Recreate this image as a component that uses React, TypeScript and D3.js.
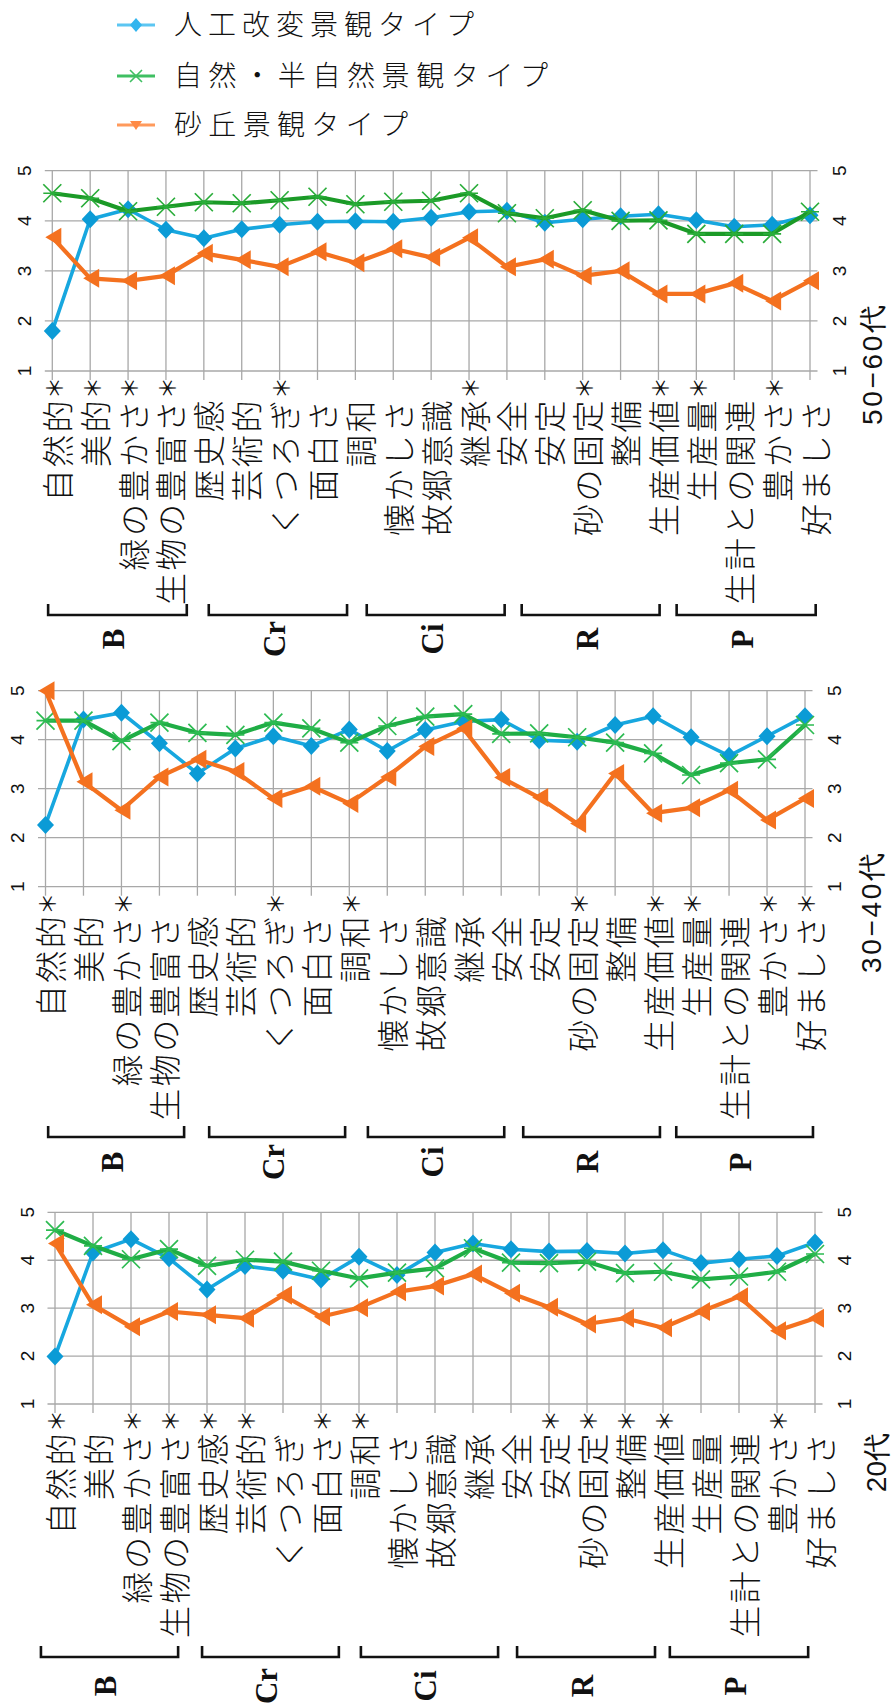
import React from 'react';
import * as d3 from 'd3';

// ---------- data ----------
const categories = ['自然的', '美的', '緑の豊かさ', '生物の豊富さ', '歴史感', '芸術的', 'くつろぎ', '面白さ', '調和', '懐かしさ', '故郷意識', '継承', '安全', '安定', '砂の固定', '整備', '生産価値', '生産量', '生計との関連', '豊かさ', '好ましさ'];
const groupNames = ['B', 'Cr', 'Ci', 'R', 'P'];
const seriesNames = ['人工改変景観タイプ', '自然・半自然景観タイプ', '砂丘景観タイプ'];
const valueTicks = [1, 2, 3, 4, 5];

// 50–60代
const artificial5060 = [1.8, 4.03, 4.23, 3.82, 3.65, 3.83, 3.92, 3.98, 3.99, 3.98, 4.06, 4.18, 4.2, 3.96, 4.03, 4.09, 4.13, 4.01, 3.88, 3.92, 4.11];
const natural5060 = [4.55, 4.45, 4.19, 4.28, 4.37, 4.35, 4.41, 4.48, 4.33, 4.38, 4.4, 4.55, 4.15, 4.05, 4.21, 4.0, 4.01, 3.74, 3.74, 3.74, 4.18];
const dune5060 = [3.67, 2.85, 2.8, 2.9, 3.35, 3.22, 3.08, 3.38, 3.16, 3.44, 3.27, 3.66, 3.08, 3.23, 2.9, 3.0, 2.54, 2.54, 2.75, 2.4, 2.8];
const sig5060 = [1, 1, 1, 1, 0, 0, 1, 0, 0, 0, 0, 1, 0, 0, 1, 0, 1, 1, 0, 1, 0];

// 30–40代
const artificial3040 = [2.26, 4.41, 4.55, 3.93, 3.31, 3.82, 4.07, 3.87, 4.21, 3.77, 4.2, 4.37, 4.41, 3.99, 3.96, 4.3, 4.48, 4.05, 3.67, 4.07, 4.48];
const natural3040 = [4.39, 4.39, 3.97, 4.35, 4.14, 4.1, 4.35, 4.23, 3.94, 4.28, 4.47, 4.52, 4.12, 4.13, 4.05, 3.94, 3.72, 3.28, 3.52, 3.6, 4.3];
const dune3040 = [5.0, 3.14, 2.56, 3.24, 3.6, 3.35, 2.8, 3.05, 2.7, 3.24, 3.86, 4.23, 3.23, 2.82, 2.29, 3.31, 2.5, 2.61, 2.97, 2.36, 2.8];
const sig3040 = [1, 0, 1, 0, 0, 0, 1, 0, 1, 0, 0, 0, 0, 0, 1, 0, 1, 1, 0, 1, 1];

// 20代
const artificial20 = [1.99, 4.16, 4.44, 4.04, 3.39, 3.88, 3.78, 3.6, 4.07, 3.69, 4.16, 4.35, 4.23, 4.18, 4.19, 4.14, 4.21, 3.94, 4.02, 4.09, 4.37];
const natural20 = [4.63, 4.3, 4.02, 4.23, 3.88, 4.01, 3.97, 3.78, 3.62, 3.74, 3.83, 4.25, 3.95, 3.94, 3.97, 3.73, 3.76, 3.6, 3.66, 3.76, 4.13];
const dune20 = [4.35, 3.07, 2.61, 2.93, 2.86, 2.79, 3.27, 2.82, 3.01, 3.34, 3.46, 3.71, 3.31, 3.02, 2.67, 2.79, 2.59, 2.93, 3.24, 2.53, 2.79];
const sig20 = [1, 0, 1, 1, 1, 1, 0, 1, 1, 0, 0, 0, 0, 1, 1, 1, 1, 0, 0, 1, 0];

// ---------- layout / style ----------
const BLUE_LINE = '#17a7df';
const BLUE_MARK = '#0b9bd6';
const ORANGE = '#f4711f';
const GRID = '#a8a8a8';
const CJK = '"Noto Sans CJK JP", "Noto Sans CJK SC", sans-serif';
const SANS = '"Liberation Sans", Arial, sans-serif';
const SERIF = '"Liberation Serif", "Times New Roman", serif';

const panels = [
  {
    title: '50−60代', data: [artificial5060, natural5060, dune5060], sig: sig5060,
    x0: 52.3, x1: 810, yTop: 170.7, yBot: 371, bracketY: 615, letterY: 639, titleX: 872, titleY: 305, titleLen: 120,
    brackets: [[-0.11, 3.55], [4.13, 7.78], [8.3, 11.94], [12.39, 16.03], [16.48, 20.15]], green: '#1b9a27', greenMark: '#2aad3a',
  },
  {
    title: '30−40代', data: [artificial3040, natural3040, dune3040], sig: sig3040,
    x0: 45.5, x1: 805, yTop: 690.7, yBot: 886.7, bracketY: 1137, letterY: 1162, titleX: 871, titleY: 853, titleLen: 120,
    brackets: [[0.07, 3.65], [4.31, 7.89], [8.49, 12.08], [12.58, 16.18], [16.61, 20.21]], green: '#1fad45', greenMark: '#2dbb52',
  },
  {
    title: '20代', data: [artificial20, natural20, dune20], sig: sig20,
    x0: 55, x1: 815, yTop: 1212.3, yBot: 1404, bracketY: 1657, letterY: 1686, titleX: 876, titleY: 1433, titleLen: 0,
    brackets: [[-0.37, 3.24], [3.87, 7.47], [8.05, 11.66], [12.16, 15.79], [16.18, 19.82]], green: '#1fad45', greenMark: '#2dbb52',
  },
];

function Diamond({ cx, cy }: { cx: number; cy: number }) {
  return <path d={`M${cx},${cy - 9}L${cx + 8.5},${cy}L${cx},${cy + 9}L${cx - 8.5},${cy}Z`} fill={BLUE_MARK} />;
}
function Cross({ cx, cy, color }: { cx: number; cy: number; color: string }) {
  const r = 9;
  return (
    <path d={`M${cx - r},${cy - r}L${cx + r},${cy + r}M${cx - r},${cy + r}L${cx + r},${cy - r}M${cx - r},${cy}L${cx + r},${cy}`}
      stroke={color} strokeWidth={1.7} fill="none" />
  );
}
function Tri({ cx, cy }: { cx: number; cy: number }) {
  return <path d={`M${cx - 7},${cy}L${cx + 9},${cy - 9.5}L${cx + 9},${cy + 9.5}Z`} fill={ORANGE} />;
}

function Panel({ p }: { p: (typeof panels)[number] }) {
  const x = d3.scalePoint<string>().domain(categories).range([p.x0, p.x1]);
  const xi = d3.scaleLinear().domain([0, categories.length - 1]).range([p.x0, p.x1]);
  const y = d3.scaleLinear().domain([1, 5]).range([p.yBot, p.yTop]);
  const line = d3.line<number>().x((_, i) => x(categories[i]) as number).y((d) => y(d));
  const colors = [BLUE_LINE, p.green, ORANGE];
  const widths = [3.6, 4.2, 4.2];

  return (
    <g>
      {/* gridlines */}
      {valueTicks.map((t) => (
        <line key={'h' + t} x1={p.x0 - 7.5} x2={p.x1 + 7.5} y1={y(t)} y2={y(t)} stroke={GRID} strokeWidth={1.3} />
      ))}
      {categories.map((c) => (
        <line key={'v' + c} x1={x(c)} x2={x(c)} y1={y(5)} y2={y(1) + 9} stroke={GRID} strokeWidth={1.3} />
      ))}
      {/* tick labels */}
      {valueTicks.map((t) => (
        <g key={'tl' + t}>
          <text transform={`translate(${p.x0 - 28},${y(t)}) rotate(-90)`} textAnchor="middle" dy="0.36em"
            fontFamily={SANS} fontSize={19} fill="#111">{t}</text>
          <text transform={`translate(${p.x1 + 29},${y(t)}) rotate(-90)`} textAnchor="middle" dy="0.36em"
            fontFamily={SANS} fontSize={19} fill="#111">{t}</text>
        </g>
      ))}
      {/* series */}
      {p.data.map((vals, si) => (
        <g key={'s' + si}>
          <path d={line(vals) as string} fill="none" stroke={colors[si]} strokeWidth={widths[si]} strokeLinejoin="round" />
          {vals.map((v, i) => {
            const cx = x(categories[i]) as number;
            const cy = y(v);
            if (si === 0) return <Diamond key={i} cx={cx} cy={cy} />;
            if (si === 1) return <Cross key={i} cx={cx} cy={cy} color={p.greenMark} />;
            return <Tri key={i} cx={cx} cy={cy} />;
          })}
        </g>
      ))}
      {/* category labels */}
      {categories.map((c, i) => (
        <g key={'cl' + c}>
          <text transform={`translate(${(x(c) as number) + 6},${p.yBot + 27}) rotate(-90)`} textAnchor="end" dy="0.36em"
            fontFamily={CJK} fontWeight={300} fontSize={32} letterSpacing={2.5} fill="#111">{c}</text>
          {p.sig[i] ? (
            <text transform={`translate(${(x(c) as number) + 1.5},${p.yBot + 17}) rotate(-90)`} textAnchor="middle" dy="0.36em"
              fontFamily={CJK} fontSize={22} fill="#111">＊</text>
          ) : null}
        </g>
      ))}
      {/* group brackets */}
      {groupNames.map((g, gi) => {
        const a = xi(p.brackets[gi][0]);
        const b = xi(p.brackets[gi][1]);
        const yb = p.bracketY;
        return (
          <g key={'g' + g}>
            <path d={`M${a},${yb - 11}L${a},${yb}L${b},${yb}L${b},${yb - 11}`} fill="none" stroke="#111" strokeWidth={2.6} />
            <text transform={`translate(${(a + b) / 2 - 4},${p.letterY}) rotate(-90)`} textAnchor="middle" dy="0.35em"
              fontFamily={SERIF} fontWeight="bold" fontSize={31} fill="#111">{g}</text>
          </g>
        );
      })}
      {/* panel title */}
      <text transform={`translate(${p.titleX},${p.titleY}) rotate(-90)`} textAnchor="end" dy="0.36em"
        fontFamily={SANS} fontSize={28} fill="#111"
        {...(p.titleLen ? { textLength: p.titleLen, lengthAdjust: 'spacing' } : {})}>{p.title}</text>
    </g>
  );
}

function Legend() {
  const ys = [25, 76, 125];
  const lineColors = ['#5cc6f2', '#3fbf62', '#ff9a5c'];
  const textLens = [300, 374, 234];
  return (
    <g>
      {seriesNames.map((n, i) => {
        const yy = ys[i];
        const cx = 136;
        return (
          <g key={n}>
            <line x1={117} x2={155} y1={yy} y2={yy} stroke={lineColors[i]} strokeWidth={3} />
            {i === 0 && <path d={`M${cx},${yy - 7}L${cx + 6},${yy}L${cx},${yy + 7}L${cx - 6},${yy}Z`} fill="#33b5ee" />}
            {i === 1 && <path d={`M${cx - 6},${yy - 6}L${cx + 6},${yy + 6}M${cx - 6},${yy + 6}L${cx + 6},${yy - 6}`} stroke="#3fbf62" strokeWidth={1.6} />}
            {i === 2 && <path d={`M${cx - 6},${yy - 4}L${cx + 6},${yy - 4}L${cx},${yy + 5}Z`} fill="#ff8a45" />}
            <text x={174} y={yy} dy="0.36em" fontFamily={CJK} fontWeight={300} fontSize={28}
              textLength={textLens[i]} lengthAdjust="spacing" fill="#111">{n}</text>
          </g>
        );
      })}
    </g>
  );
}

export default function App() {
  return (
    <div style={{ position: 'absolute', left: 0, top: 0 }}>
      <svg width={892} height={1708} style={{ display: 'block', background: '#fff' }}>
        <rect width={892} height={1708} fill="#fff" />
        <Legend />
        {panels.map((p) => (
          <Panel key={p.title} p={p} />
        ))}
      </svg>
    </div>
  );
}
